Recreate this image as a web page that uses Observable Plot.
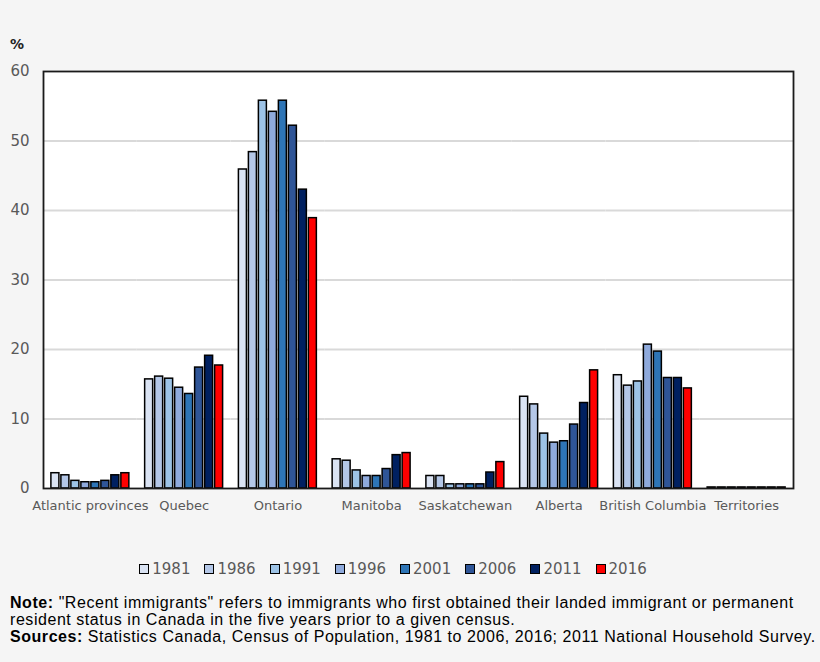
<!DOCTYPE html>
<html>
<head>
<meta charset="utf-8">
<script src="https://cdn.jsdelivr.net/npm/d3@7"></script>
<script src="https://cdn.jsdelivr.net/npm/@observablehq/plot@0.6"></script>
<style>
  html, body { margin: 0; padding: 0; background: #f5f5f5; width: 820px; height: 662px; overflow: hidden; position: relative; }
  #pct { position: absolute; left: 10px; top: 36px; font: bold 14px "DejaVu Sans", Verdana, sans-serif; color: #222; }
  #chart { position: absolute; left: 0; top: 0; }
  #legend { position: absolute; top: 560px; left: -17px; width: 820px; display: flex; justify-content: center; font: 15px "DejaVu Sans", Verdana, sans-serif; color: #595959; }
  #legend .item { display: flex; align-items: center; margin: 0 7px; }
  #legend .sw { width: 8px; height: 8px; border: 1.5px solid #000; margin-right: 3px; }
  #note { position: absolute; left: 10px; top: 594px; font: 16px "Liberation Sans", Arial, sans-serif; letter-spacing: 0.55px; line-height: 17px; color: #000; white-space: nowrap; }
</style>
</head>
<body>
<div id="pct">%</div>
<div id="chart"></div>
<div id="legend"></div>
<div id="note"><b>Note:</b> "Recent immigrants" refers to immigrants who first obtained their landed immigrant or permanent<br>resident status in Canada in the five years prior to a given census.<br><b>Sources:</b> Statistics Canada, Census of Population, 1981 to 2006, 2016; 2011 National Household Survey.</div>
<script>
const provinces = ["Atlantic provinces", "Quebec", "Ontario", "Manitoba", "Saskatchewan", "Alberta", "British Columbia", "Territories"];
const years = ["1981", "1986", "1991", "1996", "2001", "2006", "2011", "2016"];
const colors = ["#dae3f3", "#b4c7e7", "#9dc3e6", "#8faadc", "#2e75b6", "#2f5597", "#002060", "#ff0000"];
const v1981 = [2.2, 15.7, 45.9, 4.2, 1.8, 13.2, 16.3, 0.15];
const v1986 = [1.9, 16.1, 48.4, 4.0, 1.8, 12.1, 14.8, 0.15];
const v1991 = [1.1, 15.8, 55.8, 2.6, 0.6, 7.9, 15.4, 0.15];
const v1996 = [0.9, 14.5, 54.2, 1.8, 0.6, 6.6, 20.7, 0.15];
const v2001 = [0.9, 13.6, 55.8, 1.8, 0.6, 6.8, 19.7, 0.15];
const v2006 = [1.1, 17.4, 52.2, 2.8, 0.6, 9.2, 15.9, 0.15];
const v2011 = [1.9, 19.1, 43.0, 4.8, 2.3, 12.3, 15.9, 0.15];
const v2016 = [2.2, 17.7, 38.9, 5.1, 3.8, 17.0, 14.4, 0.15];
const yTicks = [0, 10, 20, 30, 40, 50, 60];

const series = [v1981, v1986, v1991, v1996, v2001, v2006, v2011, v2016];
const data = [];
years.forEach((yr, j) => provinces.forEach((p, i) => data.push({province: p, year: yr, value: series[j][i]})));

const plot = Plot.plot({
  width: 820,
  height: 520,
  marginLeft: 43,
  marginRight: 27,
  marginTop: 71,
  marginBottom: 32,
  style: {background: "transparent", fontFamily: "'DejaVu Sans', Verdana, sans-serif", overflow: "visible"},
  fx: {domain: provinces, padding: 0, round: false, label: null},
  x: {domain: years, axis: null, paddingInner: 0.2, paddingOuter: 0.79, round: false},
  y: {domain: [0, 60], axis: null},
  color: {domain: years, range: colors},
  marks: [
    Plot.frame({facet: "super", fill: "white", stroke: "none"}),
    Plot.gridY(yTicks.slice(1, -1), {stroke: "#d9d9d9", strokeOpacity: 1, strokeWidth: 1.8}),
    Plot.axisY(yTicks, {tickSize: 0, tickPadding: 14, fontSize: 15, fill: "#595959", label: null}),
    Plot.axisFx({anchor: "bottom", tickSize: 0, tickPadding: 12, fontSize: 13, fill: "#595959", label: null}),
    Plot.barY(data, {fx: "province", x: "year", y: "value", fill: "year", stroke: "#000", strokeWidth: 1.5}),
    Plot.frame({facet: "super", stroke: "#1a1a1a", strokeWidth: 1.8})
  ]
});
document.getElementById("chart").appendChild(plot);

const legend = document.getElementById("legend");
years.forEach((yr, i) => {
  const item = document.createElement("div");
  item.className = "item";
  const sw = document.createElement("span");
  sw.className = "sw";
  sw.style.background = colors[i];
  const t = document.createElement("span");
  t.textContent = yr;
  item.appendChild(sw);
  item.appendChild(t);
  legend.appendChild(item);
});
</script>
</body>
</html>
